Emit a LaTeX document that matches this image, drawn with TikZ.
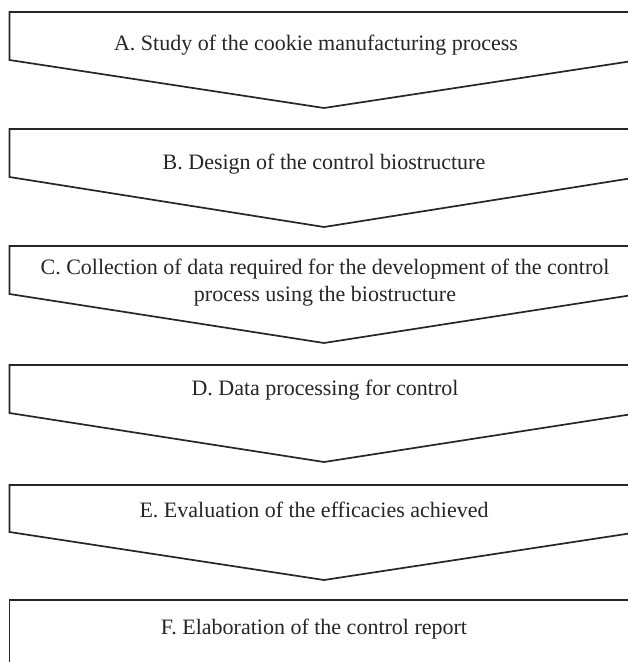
\documentclass[tikz,border=0pt]{standalone}
\usepackage{fontspec}
\setmainfont{Liberation Serif}
\begin{document}
\begin{tikzpicture}[x=1pt,y=-1pt,
  chev/.style={draw=black!85,line width=1.7pt,line join=miter,fill=white},
  lbl/.style={font=\fontsize{22}{27}\selectfont,align=center,inner sep=0pt,text=black!85}]
\useasboundingbox (0,0) rectangle (628,662);
\clip (0,0) rectangle (628,662);
\fill[white] (0,0) rectangle (628,662);
% chevrons: top, side bottom, tip
\draw[chev] (9.5,12) -- (639,12) -- (639,60) -- (324,108) -- (9.5,60) -- cycle;
\draw[chev] (9.5,129) -- (639,129) -- (639,177) -- (324,227) -- (9.5,177) -- cycle;
\draw[chev] (9.5,246) -- (639,246) -- (639,294) -- (324,343) -- (9.5,294) -- cycle;
\draw[chev] (9.5,365) -- (639,365) -- (639,413) -- (324,462) -- (9.5,413) -- cycle;
\draw[chev] (9.5,485) -- (639,485) -- (639,532) -- (324,580) -- (9.5,532) -- cycle;
\draw[chev] (9.5,600) -- (639,600) -- (639,680) -- (9.5,680) -- cycle;
\node[lbl] (A) at (316,45) {A. Study of the cookie manufacturing  process};
\node[lbl] (B) at (324,164) {B. Design  of the control biostructure};
\node[lbl] (C) at (325,283) {C. Collection of data required for the development of the control\\process using the biostructure};
\node[lbl] (D) at (325,390) {D. Data processing for control};
\node[lbl] (E) at (314,510) {E. Evaluation  of the efficacies achieved};
\node[lbl] (F) at (314,629) {F. Elaboration of the control report};
\end{tikzpicture}
\end{document}
